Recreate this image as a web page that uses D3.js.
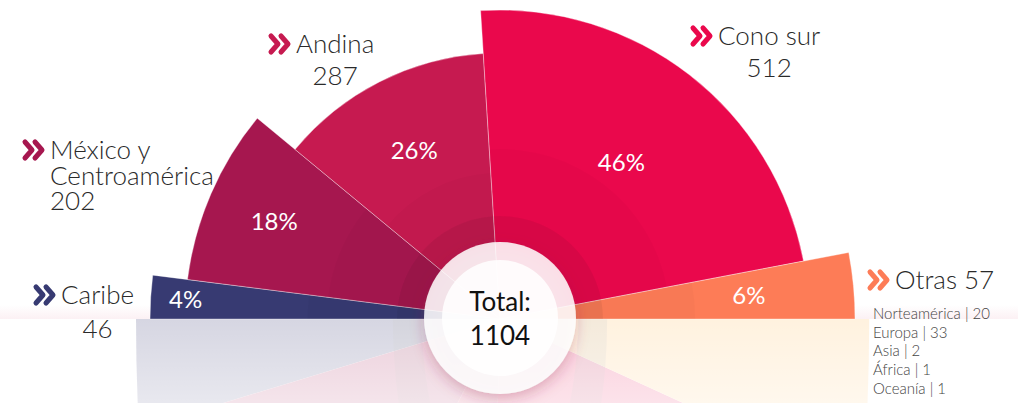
<!DOCTYPE html>
<html>
<head>
<meta charset="utf-8">
<script src="https://cdn.jsdelivr.net/npm/d3@7"></script>
<style>
  body { margin: 0; background: #fff; }
  text { font-family: Lato, "Open Sans", sans-serif; }
</style>
</head>
<body>
<script>
// data
const regions = ["Caribe", "México y Centroamérica", "Andina", "Cono sur", "Otras"];
const counts = [46, 202, 287, 512, 57];
const shares = [4, 18, 26, 46, 6];
const total = 1104;
const otherNames = ["Norteamérica", "Europa", "Asia", "África", "Oceanía"];
const otherCounts = [20, 33, 2, 1, 1];

const width = 1018, height = 403;
const cx = 500, cy = 319;

// look of each petal
const color = d3.scaleOrdinal().domain(regions)
  .range(["#373a72", "#a6174f", "#c61a50", "#ea084c", "#fd7c57"]);
const mirrorColor = d3.scaleOrdinal().domain(regions)
  .range(["#373a72", "#a6174f", "#c61a50", "#ea084c", "#ffbf66"]);
const petalR = d3.scaleOrdinal().domain(regions).range([350, 315, 266, 309, 355]);
const pctR = d3.scaleOrdinal().domain(regions).range([315, 246, 189, 198, 250]);

// outside labels
const labelLayout = {
  "Caribe": {x: 61, y: 304, lines: ["Caribe"], valueDy: 34, align: "center"},
  "México y Centroamérica": {x: 50, y: 159, lines: ["México y", "Centroamérica"], valueDy: 51, align: "left"},
  "Andina": {x: 296, y: 53, lines: ["Andina"], valueDy: 32, align: "center"},
  "Cono sur": {x: 718, y: 45, lines: ["Cono sur"], valueDy: 32, align: "center"},
  "Otras": {x: 895, y: 289, lines: ["Otras"], align: "inline"}
};

const rows = regions.map((r, i) => ({region: r, count: counts[i], share: shares[i]}));

const pie = d3.pie().sort(null).value(d => d.share)
  .startAngle(-Math.PI / 2).endAngle(Math.PI / 2);
const arcs = pie(rows);

const svg = d3.select("body").append("svg")
  .attr("width", width)
  .attr("height", height);

const defs = svg.append("defs");

const shadow = defs.append("filter").attr("id", "shadow")
  .attr("x", "-40%").attr("y", "-40%").attr("width", "180%").attr("height", "180%");
shadow.append("feDropShadow")
  .attr("dx", 0).attr("dy", 5).attr("stdDeviation", 7)
  .attr("flood-color", "#9c2f50").attr("flood-opacity", 0.35);

const fade = defs.append("linearGradient").attr("id", "fade")
  .attr("x1", 0).attr("y1", 0).attr("x2", 0).attr("y2", 1);
fade.append("stop").attr("offset", 0).attr("stop-color", "#fff").attr("stop-opacity", 0);
fade.append("stop").attr("offset", 1).attr("stop-color", "#fff").attr("stop-opacity", 0.45);

const floor = defs.append("linearGradient").attr("id", "floor")
  .attr("x1", 0).attr("y1", 0).attr("x2", 0).attr("y2", 1);
floor.append("stop").attr("offset", 0).attr("stop-color", "#e07090").attr("stop-opacity", 0);
floor.append("stop").attr("offset", 1).attr("stop-color", "#e07090").attr("stop-opacity", 0.1);

// faint floor line
svg.append("rect")
  .attr("x", 0).attr("y", cy - 14)
  .attr("width", width).attr("height", 14)
  .attr("fill", "url(#floor)");

const petal = d3.arc()
  .innerRadius(0)
  .outerRadius(d => petalR(d.data.region));

const ring1 = d3.arc().innerRadius(75).outerRadius(103);
const ring2 = d3.arc().innerRadius(103).outerRadius(d => petalR(d.data.region) * 0.55);

// reflection under the floor
const mirror = svg.append("g")
  .attr("transform", `translate(${cx},${cy}) scale(1.04,-2.5)`)
  .attr("opacity", 0.2);
mirror.selectAll("path.m")
  .data(arcs)
  .join("path")
    .attr("class", "m")
    .attr("d", petal)
    .attr("fill", d => mirrorColor(d.data.region));
mirror.selectAll("path.mr")
  .data(arcs)
  .join("path")
    .attr("class", "mr")
    .attr("d", ring1)
    .attr("fill", "#000")
    .attr("fill-opacity", 0.2);

svg.append("rect")
  .attr("x", 0).attr("y", cy)
  .attr("width", width).attr("height", height - cy)
  .attr("fill", "url(#fade)");

// petals
const chart = svg.append("g")
  .attr("transform", `translate(${cx},${cy})`);

chart.selectAll("path.petal")
  .data(arcs)
  .join("path")
    .attr("class", "petal")
    .attr("d", petal)
    .attr("fill", d => color(d.data.region))
    .attr("stroke", "rgba(255,255,255,0.45)")
    .attr("stroke-width", 0.8);

chart.selectAll("path.ring2")
  .data(arcs)
  .join("path")
    .attr("class", "ring2")
    .attr("d", ring2)
    .attr("fill", "#000")
    .attr("fill-opacity", 0.02);

chart.selectAll("path.ring1")
  .data(arcs)
  .join("path")
    .attr("class", "ring1")
    .attr("d", ring1)
    .attr("fill", "#000")
    .attr("fill-opacity", 0.08);

// percentages
chart.selectAll("text.pct")
  .data(arcs)
  .join("text")
    .attr("class", "pct")
    .attr("transform", d => {
      const r = pctR(d.data.region);
      const c = d3.arc().innerRadius(r).outerRadius(r).centroid(d);
      return `translate(${c[0]},${c[1]})`;
    })
    .attr("text-anchor", "middle")
    .attr("dy", "0.36em")
    .attr("fill", "#fff")
    .style("font-size", "24px")
    .text(d => d.data.share + "%");

// center disc
const disc = svg.append("g").attr("transform", `translate(${cx},${cy - 1})`);
disc.append("circle")
  .attr("r", 76)
  .attr("fill", "#fff")
  .attr("fill-opacity", 0.86)
  .attr("filter", "url(#shadow)");
disc.append("circle")
  .attr("r", 58)
  .attr("fill", "#fff")
  .attr("fill-opacity", 0.85);
disc.append("text")
  .attr("text-anchor", "middle")
  .attr("y", -7)
  .attr("fill", "#111")
  .style("font-size", "26px")
  .text("Total:");
disc.append("text")
  .attr("text-anchor", "middle")
  .attr("y", 27)
  .attr("fill", "#111")
  .style("font-size", "26px")
  .text(total);

// chevron marker
const chevron = (g, x, y, fill) => {
  const m = g.append("g").attr("transform", `translate(${x},${y})`);
  [0, 10].forEach(o => {
    m.append("path")
      .attr("d", `M${o},0L${o + 7},8L${o},16`)
      .attr("fill", "none")
      .attr("stroke", fill)
      .attr("stroke-width", 5)
      .attr("stroke-linecap", "round")
      .attr("stroke-linejoin", "round");
  });
};

const labels = svg.append("g");

rows.forEach(d => {
  const l = labelLayout[d.region];
  const g = labels.append("g");
  chevron(g, l.x - 25, l.y - 17, color(d.region));

  let w = 0;
  l.lines.forEach((t, i) => {
    const line = g.append("text")
      .attr("x", l.x)
      .attr("y", l.y + i * 25.5)
      .attr("fill", "#2a2a2a")
      .style("font-size", "26px")
      .style("font-weight", 300)
      .text(l.align === "inline" ? t + " " + d.count : t);
    w = Math.max(w, line.node().getComputedTextLength());
  });

  if (l.align !== "inline") {
    g.append("text")
      .attr("x", l.align === "center" ? l.x + w / 2 : l.x)
      .attr("y", l.y + l.valueDy)
      .attr("text-anchor", l.align === "center" ? "middle" : "start")
      .attr("fill", "#2a2a2a")
      .style("font-size", "26px")
      .style("font-weight", 300)
      .text(d.count);
  }
});

// breakdown of "Otras"
labels.selectAll("text.sub")
  .data(otherNames.map((n, i) => ({name: n, count: otherCounts[i]})))
  .join("text")
    .attr("class", "sub")
    .attr("x", 873)
    .attr("y", (d, i) => 319 + i * 18.7)
    .attr("fill", "#444")
    .style("font-size", "15px")
    .style("font-weight", 300)
    .text(d => `${d.name} | ${d.count}`);
</script>
</body>
</html>
